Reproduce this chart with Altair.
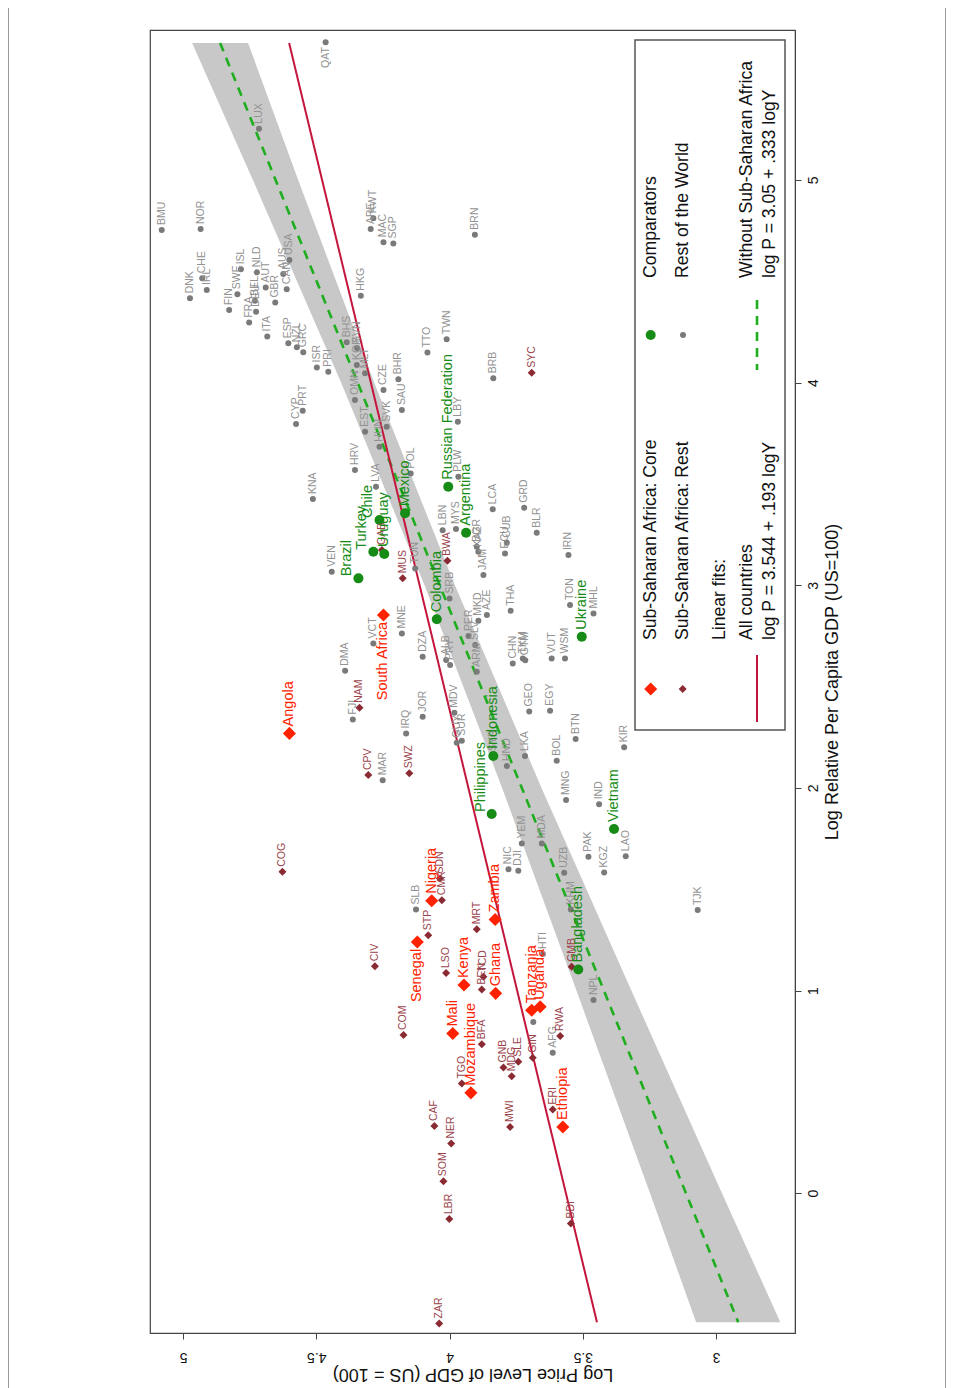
import altair as alt
import pandas as pd

# ---------------- data (log price level P, log relative GDP per capita G) ----------------
core_names = ["Angola", "South Africa", "Nigeria", "Senegal", "Zambia", "Kenya", "Ghana",
              "Mali", "Mozambique", "Tanzania", "Uganda", "Ethiopia"]
core_price = [4.601, 4.248, 4.067, 4.121, 3.829, 3.946, 3.827, 3.988, 3.920, 3.692, 3.660, 3.575]
core_gdp = [2.269, 2.853, 1.443, 1.240, 1.351, 1.027, 0.986, 0.788, 0.495, 0.903, 0.920, 0.327]

ssa_names = ["COG", "NAM", "CPV", "SWZ", "MUS", "BWA", "GAB", "SYC", "SDN", "CMR", "STP", "CIV",
             "MRT", "LSO", "TCD", "BEN", "GMB", "COM", "BFA", "GNB", "MDG", "SLE", "GIN", "TGO",
             "RWA", "CAF", "NER", "MWI", "ERI", "SOM", "LBR", "BDI", "ZAR"]
ssa_price = [4.627, 4.338, 4.305, 4.151, 4.176, 4.008, 4.254, 3.692, 4.036, 4.029, 4.080, 4.280,
             3.898, 4.013, 3.873, 3.879, 3.542, 4.173, 3.879, 3.798, 3.767, 3.742, 3.688, 3.954,
             3.585, 4.057, 3.994, 3.773, 3.613, 4.023, 4.001, 3.545, 4.039]
ssa_gdp = [1.586, 2.395, 2.063, 2.072, 3.034, 3.121, 3.174, 4.049, 1.553, 1.446, 1.273, 1.120,
           1.302, 1.086, 1.068, 1.005, 1.117, 0.780, 0.735, 0.620, 0.577, 0.648, 0.668, 0.541,
           0.776, 0.331, 0.245, 0.327, 0.413, 0.059, -0.128, -0.150, -0.643]

comp_names = ["Brazil", "Turkey", "Chile", "Uruguay", "Mexico", "Russian Federation", "Argentina",
              "Colombia", "Indonesia", "Philippines", "Vietnam", "Ukraine", "Bangladesh"]
comp_price = [4.342, 4.286, 4.263, 4.245, 4.167, 4.005, 3.938, 4.048, 3.836, 3.842, 3.383, 3.504, 3.517]
comp_gdp = [3.034, 3.165, 3.322, 3.154, 3.355, 3.486, 3.259, 2.832, 2.157, 1.871, 1.797, 2.746, 1.104]

row_names = ["QAT", "LUX", "BMU", "NOR", "DNK", "CHE", "IRL", "FIN", "SWE", "ISL", "NLD", "FRA",
             "BEL", "DEU", "AUT", "GBR", "ITA", "AUS", "USA", "CAN", "ESP", "NZL", "GRC", "BHS",
             "ISR", "PRI", "CYP", "PRT", "KNA", "VEN", "DMA", "HKG", "KWT", "ARE", "MAC", "SGP",
             "BRN", "TTO", "TWN", "SVN", "KOR", "MLT", "OMN", "EST", "HUN", "LVA", "HRV", "SVK",
             "CZE", "BHR", "SAU", "POL", "LBY", "PLW", "LBN", "MYS", "TUN", "SRB", "BGR", "KAZ",
             "JAM", "CUB", "ECU", "LCA", "GRD", "BLR", "BRB", "THA", "MKD", "AZE", "PER", "SLV",
             "ARM", "MNE", "VCT", "DZA", "ALB", "PRY", "CHN", "TKM", "GTM", "IRN", "TON", "VUT",
             "WSM", "MHL", "FJI", "MAR", "IRQ", "JOR", "MDV", "GUY", "SUR", "SYR", "HND", "LKA",
             "GEO", "YEM", "NIC", "DJI", "SLB", "EGY", "BTN", "BOL", "KIR", "MNG", "IND", "LAO",
             "PAK", "KGZ", "TJK", "MDA", "UZB", "KHM", "HTI", "NPL", "AFG", ""]
row_price = [4.465, 4.715, 5.080, 4.934, 4.974, 4.928, 4.911, 4.827, 4.796, 4.783, 4.723, 4.752,
             4.730, 4.726, 4.690, 4.654, 4.684, 4.624, 4.601, 4.611, 4.605, 4.573, 4.549, 4.386,
             4.498, 4.455, 4.576, 4.551, 4.513, 4.442, 4.392, 4.333, 4.286, 4.296, 4.248, 4.211,
             3.905, 4.083, 4.011, 4.347, 4.348, 4.317, 4.355, 4.317, 4.263, 4.276, 4.355, 4.236,
             4.248, 4.192, 4.179, 4.146, 3.969, 3.967, 4.026, 3.976, 4.129, 4.000, 3.898, 3.892,
             3.873, 3.785, 3.792, 3.838, 3.720, 3.673, 3.836, 3.771, 3.892, 3.860, 3.929, 3.904,
             3.898, 4.179, 4.286, 4.101, 4.013, 3.998, 3.763, 3.725, 3.716, 3.554, 3.548, 3.617,
             3.567, 3.460, 4.363, 4.251, 4.163, 4.101, 3.982, 3.973, 3.954, 3.836, 3.785, 3.717,
             3.701, 3.729, 3.779, 3.742, 4.126, 3.623, 3.527, 3.598, 3.345, 3.563, 3.439, 3.339,
             3.479, 3.420, 3.069, 3.654, 3.570, 3.545, 3.650, 3.460, 3.613, 3.686]
row_gdp = [5.680, 5.253, 4.753, 4.758, 4.416, 4.515, 4.457, 4.358, 4.436, 4.559, 4.544, 4.296,
           4.404, 4.350, 4.469, 4.395, 4.227, 4.536, 4.605, 4.461, 4.194, 4.174, 4.150, 4.199,
           4.075, 4.054, 3.796, 3.861, 3.425, 3.067, 2.578, 4.429, 4.811, 4.758, 4.692, 4.687,
           4.730, 4.148, 4.214, 4.171, 4.087, 4.046, 3.914, 3.758, 3.684, 3.486, 3.569, 3.782,
           3.963, 4.016, 3.865, 3.552, 3.807, 3.536, 3.272, 3.277, 3.083, 2.935, 3.190, 3.165,
           3.050, 3.210, 3.157, 3.375, 3.383, 3.259, 4.021, 2.874, 2.825, 2.853, 2.749, 2.705,
           2.573, 2.762, 2.713, 2.647, 2.631, 2.606, 2.614, 2.639, 2.630, 3.149, 2.902, 2.639,
           2.639, 2.861, 2.338, 2.038, 2.269, 2.351, 2.371, 2.223, 2.233, 2.157, 2.108, 2.157,
           2.377, 1.726, 1.598, 1.591, 1.400, 2.381, 2.241, 2.134, 2.200, 1.940, 1.919, 1.663,
           1.660, 1.583, 1.397, 1.726, 1.581, 1.400, 1.180, 0.953, 0.693, 0.845]

# label placement (clock position relative to marker in the unrotated chart)
label_left = ["South Africa", "Senegal", "QAT"]
label_up = ["Brazil", "Turkey", "Chile", "Philippines"]

# linear fits (endpoints) and confidence band
fit_gdp = [-0.637, 5.676]
fit_all_price = [3.447, 4.602]
fit_nossa_price = [2.917, 4.861]
band_gdp = [-0.637, 0.0, 1.0, 2.0, 3.0, 4.0, 5.0, 5.676]
band_lo = [2.759, 2.978, 3.318, 3.655, 3.980, 4.283, 4.568, 4.756]
band_hi = [3.075, 3.248, 3.524, 3.803, 4.094, 4.407, 4.738, 4.966]

# ---------------- styling ----------------
FONT = "Liberation Sans"
RED = "#ff2200"
DARKRED = "#8a2a32"
DARKRED_TXT = "#9a454c"
GREEN = "#168c16"
GRAY = "#7a7a7a"
GRAY_TXT = "#929292"
LINE_RED = "#c4163c"
LINE_GREEN = "#1fae1f"

xscale = alt.Scale(domain=[2.704, 5.124], reverse=True, nice=False, zero=False)
yscale = alt.Scale(domain=[-0.69, 5.74], nice=False, zero=False)
xaxis = alt.Axis(values=[3, 3.5, 4, 4.5, 5], format="~g", grid=False, orient="bottom",
                 labelAngle=180, labelAlign="center", labelBaseline="bottom", labelPadding=10,
                 labelFontSize=14, tickSize=6, title="Log Price Level of GDP (US = 100)",
                 titleAngle=180, titleBaseline="bottom", titlePadding=1, titleFontSize=18,
                 titleFontWeight="normal")
yaxis = alt.Axis(values=[0, 1, 2, 3, 4, 5], format="d", grid=False, orient="right",
                 labelAngle=270, labelAlign="center", labelBaseline="top", labelPadding=5,
                 labelFontSize=14, tickSize=6, title="Log Relative Per Capita GDP (US=100)",
                 titleAngle=270, titleBaseline="top", titlePadding=3, titleFontSize=18,
                 titleFontWeight="normal")


def X(field):
    return alt.X(field, type="quantitative", scale=xscale, axis=xaxis)


def Y(field):
    return alt.Y(field, type="quantitative", scale=yscale, axis=yaxis)


def frame(names, price, gdp):
    pos = ["l" if n in label_left else ("u" if n in label_up else "r") for n in names]
    return pd.DataFrame({"name": names, "price": price, "gdp": gdp, "pos": pos})


core = frame(core_names, core_price, core_gdp)
ssa = frame(ssa_names, ssa_price, ssa_gdp)
comp = frame(comp_names, comp_price, comp_gdp)
row = frame(row_names, row_price, row_gdp)

band_df = pd.DataFrame({"gdp": band_gdp, "lo": band_lo, "hi": band_hi})
fit_all_df = pd.DataFrame({"gdp": fit_gdp, "price": fit_all_price})
fit_nossa_df = pd.DataFrame({"gdp": fit_gdp, "price": fit_nossa_price})

layers = []
layers.append(alt.Chart(band_df).mark_area(orient="horizontal", color="#c8c8c8", opacity=1)
              .encode(y=Y("gdp"), x=X("lo"), x2="hi"))
layers.append(alt.Chart(fit_nossa_df).mark_line(color=LINE_GREEN, strokeWidth=2.6, strokeDash=[9, 7])
              .encode(x=X("price"), y=Y("gdp")))
layers.append(alt.Chart(fit_all_df).mark_line(color=LINE_RED, strokeWidth=2)
              .encode(x=X("price"), y=Y("gdp")))


def points(df, shape, size, color):
    return alt.Chart(df).mark_point(shape=shape, filled=True, size=size, color=color, opacity=1) \
        .encode(x=X("price"), y=Y("gdp"))


def labels(df, color, fs, off):
    out = []
    for pos in ["r", "l", "u"]:
        sub = df[df["pos"] == pos]
        if len(sub) == 0:
            continue
        if pos == "r":
            kw = dict(align="left", dx=off, dy=0)
        elif pos == "l":
            kw = dict(align="right", dx=-off, dy=0)
        else:
            kw = dict(align="left", dx=2, dy=-11)
        out.append(alt.Chart(sub).mark_text(angle=270, baseline="middle", font=FONT, fontSize=fs,
                                            color=color, **kw)
                   .encode(x=X("price"), y=Y("gdp"), text="name:N"))
    return out


layers.append(points(row, "circle", 36, GRAY))
layers.append(points(ssa, "diamond", 64, DARKRED))
layers.append(points(comp, "circle", 100, GREEN))
layers.append(points(core, "diamond", 170, RED))
layers += labels(row, GRAY_TXT, 10.5, 5)
layers += labels(ssa, DARKRED_TXT, 10.5, 5)
layers += labels(comp, GREEN, 14.5, 7)
layers += labels(core, RED, 14.5, 7)

# ---------------- legend (drawn inside plot, rotated like the rest) ----------------
one = pd.DataFrame({"k": [0]})


def ltext(txt, x, y, fs=17.6):
    return alt.Chart(one).mark_text(text=txt, angle=270, align="left", baseline="middle",
                                    font=FONT, fontSize=fs, color="#111") \
        .encode(x=alt.value(x), y=alt.value(y))


layers.append(alt.Chart(one).mark_rect(fill="white", stroke="#555", strokeWidth=1.5)
              .encode(x=alt.value(485), x2=alt.value(635), y=alt.value(10), y2=alt.value(700)))
layers.append(alt.Chart(one).mark_point(shape="diamond", filled=True, size=170, color=RED, opacity=1)
              .encode(x=alt.value(500.7), y=alt.value(659)))
layers.append(alt.Chart(one).mark_point(shape="diamond", filled=True, size=64, color=DARKRED, opacity=1)
              .encode(x=alt.value(532.7), y=alt.value(659)))
layers.append(alt.Chart(one).mark_point(shape="circle", filled=True, size=100, color=GREEN, opacity=1)
              .encode(x=alt.value(500.7), y=alt.value(305)))
layers.append(alt.Chart(one).mark_point(shape="circle", filled=True, size=36, color=GRAY, opacity=1)
              .encode(x=alt.value(533), y=alt.value(305)))
layers.append(ltext("Sub-Saharan Africa: Core", 500.7, 610))
layers.append(ltext("Sub-Saharan Africa: Rest", 532.7, 610))
layers.append(ltext("Comparators", 500.7, 248))
layers.append(ltext("Rest of the World", 532.7, 248))
layers.append(ltext("Linear fits:", 570, 610))
layers.append(ltext("All countries", 597, 610))
layers.append(ltext("log P = 3.544 + .193 logY", 620, 610))
layers.append(ltext("Without Sub-Saharan Africa", 597, 248))
layers.append(ltext("log P = 3.05 + .333 logY", 620, 248))
layers.append(alt.Chart(one).mark_rule(color=LINE_RED, strokeWidth=2)
              .encode(x=alt.value(607), y=alt.value(625), y2=alt.value(692)))
layers.append(alt.Chart(one).mark_rule(color=LINE_GREEN, strokeWidth=2.6, strokeDash=[9, 7])
              .encode(x=alt.value(607), y=alt.value(270), y2=alt.value(340)))

# outer figure border
layers.append(alt.Chart(one).mark_rule(color="#9a9a9a", strokeWidth=1)
              .encode(x=alt.value(-141.5), y=alt.value(-22), y2=alt.value(1360)))
layers.append(alt.Chart(one).mark_rule(color="#9a9a9a", strokeWidth=1)
              .encode(x=alt.value(795.5), y=alt.value(-22), y2=alt.value(1360)))

chart = alt.layer(*layers).properties(
    width=645, height=1303,
    autosize=alt.AutoSizeParams(type="none"),
    padding={"left": 142, "top": 22, "right": 151, "bottom": 56},
).configure_view(stroke="#444", strokeWidth=1.2).configure_axis(
    labelFont=FONT, titleFont=FONT, labelColor="#111", titleColor="#111",
    domainColor="#444", tickColor="#444", labelFlush=False
)

chart.save("out.html", embed_options={"renderer": "svg", "actions": False})
